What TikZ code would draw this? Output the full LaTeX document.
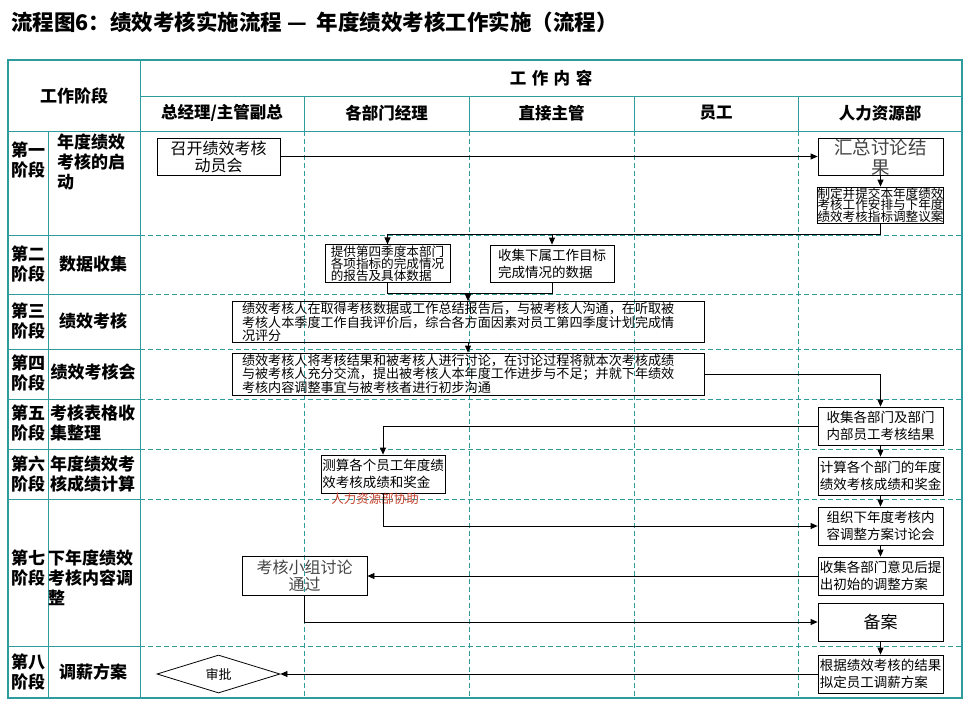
\documentclass[tikz,border=0pt]{standalone}
\usepackage{fontspec}
\setmainfont{Noto Sans CJK SC}
\usetikzlibrary{arrows.meta,shapes.geometric}
\definecolor{tealc}{HTML}{2E9C9C}
\definecolor{redc}{HTML}{C0402A}
\definecolor{txtgray}{HTML}{444444}
\newcommand\myfs[2]{\fontsize{#1}{#2}\selectfont}
\begin{document}
\begin{tikzpicture}[x=1pt,y=-1pt,
  grid/.style={draw=tealc,line width=1pt},
  dgrid/.style={draw=tealc,line width=0.8pt,dash pattern=on 5pt off 3pt},
  box/.style={draw,line width=0.8pt,inner sep=1pt,minimum width=125pt,minimum height=38pt},
  arr/.style={line width=0.8pt,-{Triangle[length=7pt,width=6pt]}},
  conn/.style={line width=0.8pt},
  hdr/.style={font=\bfseries\myfs{16.5}{18}},
  stg/.style={font=\bfseries\myfs{17}{20},align=left,inner sep=0pt},
  small/.style={font=\myfs{12.6}{11.8}},
  mid/.style={font=\myfs{13.5}{17}},
  big/.style={font=\myfs{16}{17}}]
\useasboundingbox (0,0) rectangle (965,701);
% title
\node[anchor=west,font=\bfseries\myfs{21.5}{23},inner sep=0pt] (title) at (11,22) {流程图6：绩效考核实施流程\ — \ 年度绩效考核工作实施（流程）};
% grid
\foreach \y in {235,294,349,399,449,499,646} {
  \draw[grid] (8,\y) -- (140,\y);
  \draw[dgrid] (140,\y) -- (962,\y);
}
\foreach \x in {304,469,634,798} {
  \draw[grid] (\x,96) -- (\x,131);
  \draw[dgrid] (\x,131) -- (\x,698);
}
\draw[grid] (140,96) -- (962,96);
\draw[grid] (8,131) -- (962,131);
\draw[grid] (140,60) -- (140,698);
\draw[grid] (48,131) -- (48,698);
\draw[draw=tealc,line width=1.5pt] (8,60) rectangle (962,698);
% headers
\node[font=\bfseries\myfs{17}{18}] (hstage) at (74,96) {工作阶段};
\node[hdr] (hwork) at (551,78) {工\,\,作\,\,内\,\,容};
\node[hdr] (h1) at (222,113) {总经理/主管副总};
\node[hdr] (h2) at (386.5,113) {各部门经理};
\node[hdr] (h3) at (551.5,113) {直接主管};
\node[hdr] (h4) at (716,113) {员工};
\node[hdr] (h5) at (880,113) {人力资源部};
% stages
\node[stg] (s1) at (28,160) {第一\\阶段};
\node[stg] (s2) at (28,264) {第二\\阶段};
\node[stg] (s3) at (28,321) {第三\\阶段};
\node[stg] (s4) at (28,373) {第四\\阶段};
\node[stg] (s5) at (28,423) {第五\\阶段};
\node[stg] (s6) at (28,474) {第六\\阶段};
\node[stg] (s7) at (28,568) {第七\\阶段};
\node[stg] (s8) at (28,672) {第八\\阶段};
\node[stg,anchor=north west] (n1) at (57,134) {年度绩效\\考核的启\\动};
\node[stg] (n2) at (93,264) {数据收集};
\node[stg] (n3) at (93,321) {绩效考核};
\node[stg] (n4) at (93,372) {绩效考核会};
\node[stg,anchor=west] (n5) at (50,423) {考核表格收\\集整理};
\node[stg,anchor=west] (n6) at (50,474) {年度绩效考\\核成绩计算};
\node[stg,anchor=west] (n7) at (48,578) {下年度绩效\\考核内容调\\整};
\node[stg] (n8) at (93,672) {调薪方案};
% boxes
\node[box,big,align=center,minimum width=123pt,minimum height=37pt] (b1) at (218.5,156.5) {召开绩效考核\\动员会};
\node[box,minimum height=37pt] (b2) at (880.5,156.5) {};
\node[font=\myfs{18.5}{20},text=txtgray,align=center,anchor=north] (b2t) at (880.5,135) {汇总讨论结\\果};
\node[box,small,align=center,minimum height=36pt,inner sep=0pt] (b3) at (880.5,205) {制定并提交本年度绩效\\考核工作安排与下年度\\绩效考核指标调整议案};
\node[box,small,align=left,minimum height=37pt] (b4) at (387.5,263.5) {提供第四季度本部门\\各项指标的完成情况\\的报告及具体数据};
\node[box,mid,align=left,minimum width=124pt,minimum height=37pt] (b5) at (552,263.5) {收集下属工作目标\\完成情况的数据};
\node[box,font=\myfs{13.1}{11.8},align=left,minimum width=472pt,text width=452pt] (b6) at (468,322) {绩效考核人在取得考核数据或工作总结报告后，与被考核人沟通，在听取被\\考核人本季度工作自我评价后，综合各方面因素对员工第四季度计划完成情\\况评分};
\node[box,font=\myfs{13.1}{11.8},align=left,minimum width=472pt,text width=452pt] (b7) at (468,374) {绩效考核人将考核结果和被考核人进行讨论，在讨论过程将就本次考核成绩\\与被考核人充分交流，提出被考核人本年度工作进步与不足；并就下年绩效\\考核内容调整事宜与被考核者进行初步沟通};
\node[box,mid,align=center] (b8) at (880.5,426) {收集各部门及部门\\内部员工考核结果};
\node[box,mid,align=left,minimum width=124pt] (b9) at (383,474) {测算各个员工年度绩\\效考核成绩和奖金};
\node[box,mid,align=left] (b10) at (880.5,476) {计算各个部门的年度\\绩效考核成绩和奖金};
\node[box,mid,align=center] (b11) at (880.5,526) {组织下年度考核内\\容调整方案讨论会};
\node[box,mid,align=left] (b12) at (880.5,576) {收集各部门意见后提\\出初始的调整方案};
\node[box,big,align=center,text=txtgray,minimum height=39pt] (b13) at (304.5,576) {考核小组讨论\\通过};
\node[box,font=\myfs{17}{18}] (b14) at (880.5,622) {备案};
\node[box,mid,align=left] (b15) at (880.5,674) {根据绩效考核的结果\\拟定员工调薪方案};
\node[draw,line width=0.8pt,diamond,aspect=3.2,inner sep=0pt,minimum width=123pt,minimum height=38pt,font=\myfs{13}{15}] (d1) at (218.5,674) {审批};
\node[font=\myfs{12.5}{14},text=redc] (note) at (375,499) {人力资源部协助};
% connectors
\coordinate (j1) at (880.5,234);
\coordinate (j2) at (468,293);
\draw[arr] (b1.east) -- (b2.west);
\draw[arr] (b2.south) -- (b3.north);
\draw[conn] (b3.south) -- (j1);
\draw[arr] (j1) -| (b5.north);
\draw[arr] (j1) -| (b4.north);
\draw[conn] (b4.south) |- (j2);
\draw[conn] (b5.south) |- (j2);
\draw[arr] (j2) -- (b6.north);
\draw[arr] (b6.south) -- (b7.north);
\draw[arr] (b7.east) -| (b8.north);
\draw[arr] (b8.west) -| (b9.north);
\draw[arr] (b8.south) -- (b10.north);
\draw[arr] (b9.south) |- (b11.west);
\draw[arr] (b10.south) -- (b11.north);
\draw[arr] (b11.south) -- (b12.north);
\draw[arr] (b12.west) -- (b13.east);
\draw[arr] (b13.south) |- (b14.west);
\draw[arr] (b14.south) -- (b15.north);
\draw[arr] (b15.west) -- (d1.east);
\end{tikzpicture}
\end{document}
